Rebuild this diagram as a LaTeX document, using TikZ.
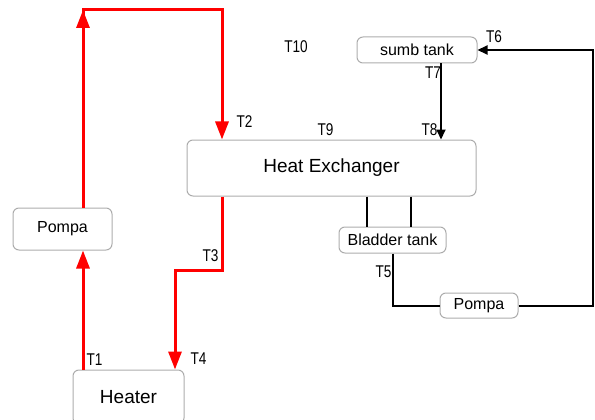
\documentclass[tikz,border=0pt]{standalone}
\usepackage{fontspec}
\setmainfont{Liberation Sans}
\usetikzlibrary{positioning, calc, arrows.meta}
\tikzset{>=latex}

\begin{document}
\begin{tikzpicture}[x=1pt,y=-1pt,
    box/.style={draw=gray!65,line width=1pt,rounded corners=6pt,inner sep=0pt,font=\fontsize{16}{16}\selectfont},
    lbl/.style={inner sep=0pt,xscale=0.8,font=\fontsize{17}{17}\selectfont},
    hot/.style={draw=red,line width=3pt,-{Triangle[length=18pt,width=13pt]}},
    pipe/.style={draw=black,line width=2pt},
    tip/.style={-{Triangle[length=10pt,width=9pt]}}]
    \useasboundingbox (0,0) rectangle (595,420);
    % boxes
    \node[box,minimum width=289pt,minimum height=56pt,font=\fontsize{19}{19}\selectfont] (he) at (331.5,168) {Heat Exchanger};
    \node[box,minimum width=120pt,minimum height=26pt] (sumb) at (417,50) {sumb tank};
    \node[box,minimum width=107pt,minimum height=26pt] (bladder) at (392.5,240) {Bladder tank};
    \node[box,minimum width=78pt,minimum height=25pt] (pompaR) at (479,305.5) {Pompa};
    \node[box,minimum width=99pt,minimum height=42pt] (pompaL) at (62.5,229) {Pompa};
    \node[box,minimum width=111pt,minimum height=54pt,font=\fontsize{19}{19}\selectfont] (heater) at (128.5,397) {Heater};
    % corners of the pipes
    \coordinate (c1) at (83,10);
    \coordinate (c2) at (222,10);
    \coordinate (c3) at (222,270);
    \coordinate (c4) at (175,270);
    \coordinate (c5) at (593,50);
    \coordinate (c6) at (441,0);
    \coordinate (c7) at (367,0);
    \coordinate (c8) at (411,0);
    % hot loop
    \draw[hot] (heater.north -| c1) -- (pompaL.south -| c1);
    \draw[hot] (pompaL.north -| c1) -- (c1) -- (c2) -- (he.north -| c2);
    \draw[hot] (pompaL.north -| c1) -- (c1);
    \draw[hot] (he.south -| c2) -- (c3) -- (c4) -- (heater.north -| c4);
    % cold loop
    \draw[pipe,tip] (pompaR.east) -- (pompaR.east -| c5) -- (c5) -- (sumb.east);
    \draw[pipe,tip] (sumb.south -| c6) -- (he.north -| c6);
    \draw[pipe] (he.south -| c7) -- (bladder.north -| c7);
    \draw[pipe] (he.south -| c8) -- (bladder.north -| c8);
    \draw[pipe] (bladder.south) |- (pompaR.west);
    % sensors
    \node[lbl] (t1) at (94.5,360) {T1};
    \node[lbl] (t2) at (244.5,122) {T2};
    \node[lbl] (t3) at (210.5,255.5) {T3};
    \node[lbl] (t4) at (198.5,359) {T4};
    \node[lbl] (t5) at (383.5,272) {T5};
    \node[lbl] (t6) at (494,37) {T6};
    \node[lbl] (t7) at (433,73) {T7};
    \node[lbl] (t8) at (429.5,130) {T8};
    \node[lbl] (t9) at (325.5,130) {T9};
    \node[lbl] (t10) at (296,46.5) {T10};
\end{tikzpicture}
\end{document}
